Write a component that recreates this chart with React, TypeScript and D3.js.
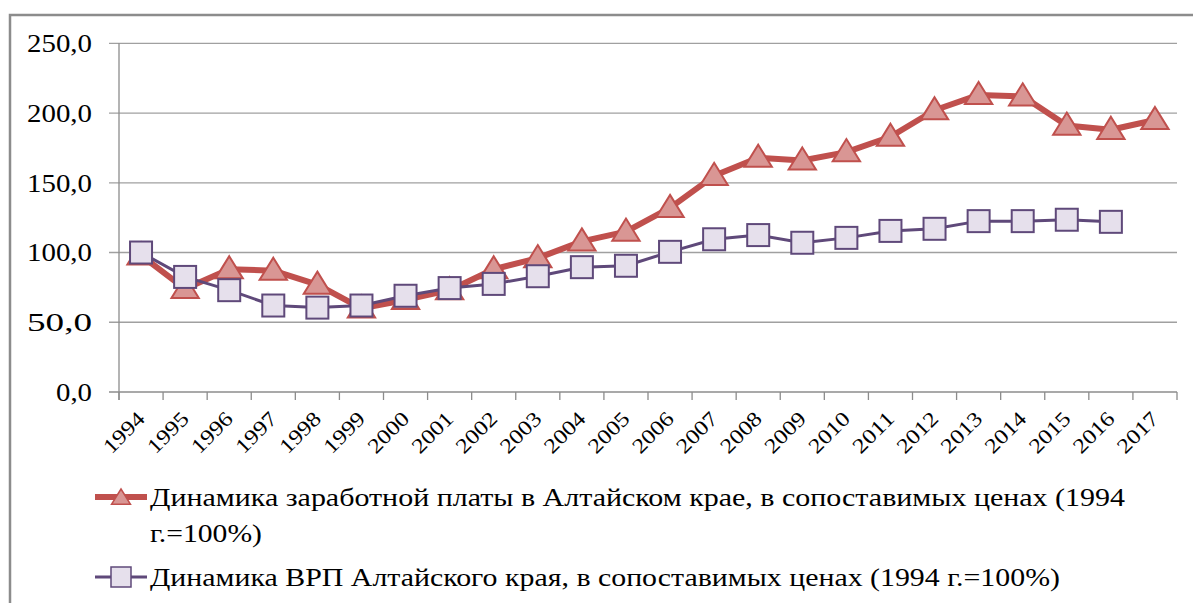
import React from "react";
import * as d3 from "d3";

const years = ["1994","1995","1996","1997","1998","1999","2000","2001","2002","2003","2004","2005","2006","2007","2008","2009","2010","2011","2012","2013","2014","2015","2016","2017"];
const wages = [98, 74, 88, 87, 77, 60, 66, 73, 88, 96, 108, 115, 132, 155, 168, 166, 172, 183, 202, 213, 212, 191, 188, 195];
const grp: (number | null)[] = [100, 82.5, 73, 62, 60.5, 62, 69, 74.5, 77.5, 83, 89.5, 90.5, 100.5, 109.5, 112.5, 107, 110.5, 115.5, 117, 122.5, 122.5, 123.5, 122, null];
const yTicks = [0, 50, 100, 150, 200, 250];
const legendWage = ["Динамика заработной платы в Алтайском крае, в сопоставимых ценах (1994", "г.=100%)"];
const legendGrp = "Динамика ВРП Алтайского края, в сопоставимых ценах (1994 г.=100%)";

const W = 1193, H = 603;
const left = 119, right = 1177, top = 43.3, bottom = 392;
const RED = "#c0504d", RED_FILL = "#d99694", PURPLE = "#5f497a", SQ_FILL = "#e6e0ec";
const FONT = "Tinos, 'Noto Serif', FreeSerif, 'Nimbus Roman', 'DejaVu Serif', serif";

export default function App() {
  const x = d3.scaleBand<string>().domain(years).range([left, right]).padding(0);
  const y = d3.scaleLinear().domain([0, 250]).range([bottom, top]);
  const cx = (i: number) => (x(years[i]) as number) + x.bandwidth() / 2;

  const line = d3.line<number | null>()
    .defined((d) => d !== null)
    .x((_, i) => cx(i))
    .y((d) => y(d as number));

  const tri = (px: number, py: number, s = 13) =>
    `M${px},${py - s} L${px + s * 1.05},${py + s * 0.7} L${px - s * 1.05},${py + s * 0.7} Z`;

  const tickXs = years.map((yr) => x(yr) as number).concat([right]);

  return (
    <div style={{ position: "absolute", left: 0, top: 0, width: W, height: H }}>
    <svg width={W} height={H} style={{ display: "block", background: "#fff" }}>
      <rect x={10} y={15} width={1300} height={700} fill="#fff" stroke="#8c8c8c" strokeWidth={2.5} />
      {yTicks.map((t) => (
        <g key={t}>
          <line x1={left - 10} x2={right} y1={y(t)} y2={y(t)} stroke={t === 0 ? "#8c8c8c" : "#a0a0a0"} strokeWidth={1.3} />
          <text x={92} y={y(t)} dy="0.35em" textAnchor="end" fontFamily={FONT} fontSize={25} fill="#000"
            textLength={t === 0 ? 36 : 65} lengthAdjust="spacingAndGlyphs">
            {d3.format(".1f")(t).replace(".", ",")}
          </text>
        </g>
      ))}
      <line x1={left} x2={left} y1={top} y2={bottom + 8} stroke="#8c8c8c" strokeWidth={1.3} />
      {tickXs.map((tx, i) => (
        <line key={i} x1={tx} x2={tx} y1={bottom} y2={bottom + 8} stroke="#8c8c8c" strokeWidth={1.3} />
      ))}
      {years.map((yr, i) => (
        <text key={yr} transform={`translate(${cx(i) + 5},${bottom + 28}) rotate(-45)`} textAnchor="end"
          fontFamily={FONT} fontSize={21} fill="#000" textLength={49} lengthAdjust="spacingAndGlyphs">{yr}</text>
      ))}
      <path d={line(wages) || ""} fill="none" stroke={RED} strokeWidth={6} strokeLinejoin="round" />
      {wages.map((v, i) => (
        <path key={i} d={tri(cx(i), y(v))} fill={RED_FILL} stroke={RED} strokeWidth={2} />
      ))}
      <path d={line(grp) || ""} fill="none" stroke={PURPLE} strokeWidth={3} strokeLinejoin="round" />
      {grp.map((v, i) => v === null ? null : (
        <rect key={i} x={cx(i) - 11} y={y(v) - 11} width={22} height={22} fill={SQ_FILL} stroke={PURPLE} strokeWidth={2} />
      ))}
      <line x1={95} x2={147} y1={497} y2={497} stroke={RED} strokeWidth={6} />
      <path d={tri(121, 498, 9)} fill={RED_FILL} stroke={RED} strokeWidth={1.5} />
      <text x={150} y={497} dy="0.35em" fontFamily={FONT} fontSize={25} textLength={975} lengthAdjust="spacingAndGlyphs">{legendWage[0]}</text>
      <text x={150} y={533} dy="0.35em" fontFamily={FONT} fontSize={25} textLength={112} lengthAdjust="spacingAndGlyphs">{legendWage[1]}</text>
      <line x1={95} x2={147} y1={577} y2={577} stroke={PURPLE} strokeWidth={3} />
      <rect x={111} y={567} width={20} height={20} fill={SQ_FILL} stroke={PURPLE} strokeWidth={1.5} />
      <text x={150} y={577} dy="0.35em" fontFamily={FONT} fontSize={25} textLength={910} lengthAdjust="spacingAndGlyphs">{legendGrp}</text>
    </svg>
    </div>
  );
}
